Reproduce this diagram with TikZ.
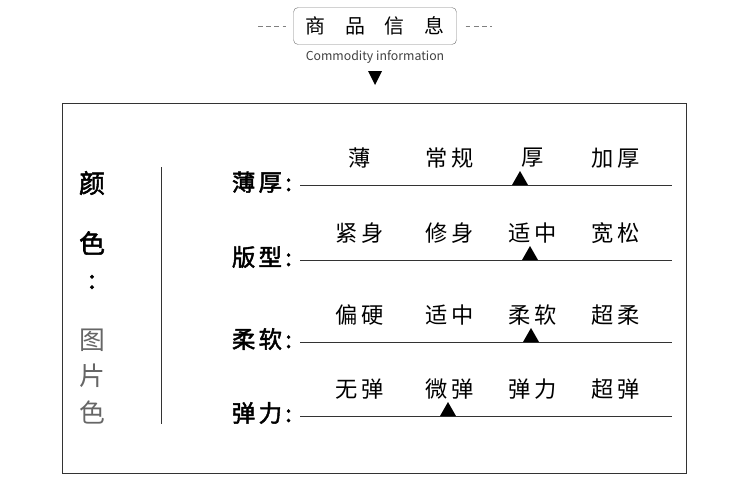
\documentclass[tikz,border=0pt]{standalone}
\usepackage{fontspec}
\setmainfont{Noto Sans CJK SC}
\newfontfamily\cjkbold[FakeBold=2,LetterSpace=14]{Noto Sans CJK SC}
\newfontfamily\cjkwide[LetterSpace=16]{Noto Sans CJK SC}
\usetikzlibrary{positioning}
\tikzset{
  opt/.style={font=\fontsize{19}{20}\selectfont\cjkwide},
  lbl/.style={font=\fontsize{20}{22}\selectfont\cjkbold, anchor=east},
  side/.style={font=\fontsize{22}{24}\selectfont\cjkbold},
  pale/.style={font=\fontsize{22}{24}\selectfont, text=black!60},
}
\begin{document}
\begin{tikzpicture}[x=0.03cm, y=-0.03cm]
    \useasboundingbox (0,0) rectangle (750,492);

    % header
    \node[draw=gray, rounded corners=4pt, minimum width=163*0.03cm, minimum height=37*0.03cm, font=\fontsize{17}{18}\selectfont] (title) at (375,26) {商\quad 品\quad 信\quad 息};
    \coordinate (dl) at (258,26);
    \coordinate (dr) at (492,26);
    \draw[gray, dash pattern=on 4pt off 3pt] (dl) -- ([xshift=-7*0.03cm]title.west);
    \draw[gray, dash pattern=on 4pt off 3pt] ([xshift=9*0.03cm]title.east) -- (dr);
    \node[font=\fontsize{10.5}{11}\selectfont, text=black!75] (sub) at (375,57) {Commodity information};
    \fill (368,71) -- (382,71) -- (375,85) -- cycle;

    % frame
    \draw[black!80] (62,103) rectangle (686,473);

    % left column
    \node[side] (c1) at (92,183) {颜};
    \node[side] (c2) at (92,243) {色};
    \node[side] (c3) at (92,282) {:};
    \node[pale] (c4) at (92,340) {图};
    \node[pale] (c5) at (92,376) {片};
    \node[pale] (c6) at (92,412) {色};
    \draw[black!80] (161,167) -- (161,424);

    % rows
    \foreach \y/\name/\a/\b/\c/\d/\m in {
        185/薄厚/薄/常规/厚/加厚/520,
        260/版型/紧身/修身/适中/宽松/530,
        342/柔软/偏硬/适中/柔软/超柔/531,
        416/弹力/无弹/微弹/弹力/超弹/448}{
      \node[lbl] at (296,\y-3) {\name:};
      \draw[black!80] (300,\y) -- (672,\y);
      \node[opt] at (360,\y-27) {\a};
      \node[opt] at (450,\y-27) {\b};
      \node[opt] at (533,\y-27) {\c};
      \node[opt] at (616,\y-27) {\d};
      \fill (\m-8,\y) -- (\m+8,\y) -- (\m,\y-14) -- cycle;
    }
\end{tikzpicture}
\end{document}
